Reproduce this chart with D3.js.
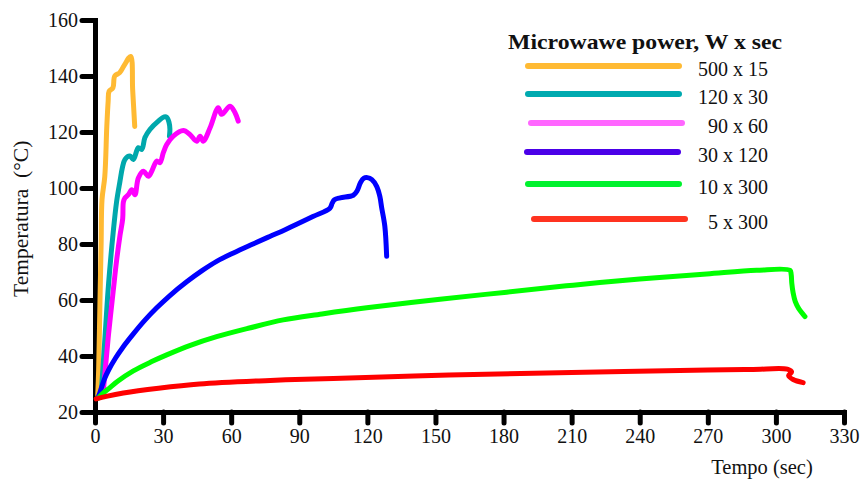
<!DOCTYPE html>
<html>
<head>
<meta charset="utf-8">
<script src="https://cdn.jsdelivr.net/npm/d3@7"></script>
<style>
  body { margin: 0; background: #fff; }
  text { font-family: "Liberation Serif", "Times New Roman", serif; fill: #111; }
</style>
</head>
<body>
<svg id="chart" width="867" height="481"></svg>
<script>
// series: [time (sec), temperature (°C)]
var s500x15 = [[1.2,26],[1.6,35],[2.2,60],[2.7,80],[3.1,96],[4.3,104],[5.2,122],[5.8,131],[6.2,134.5],
  [7.9,135.8],[8.7,140],[10.9,141.2],[13,144],[15.7,147],[16.6,135],[17.5,122]];
var s120x30 = [[2.5,26],[3,30],[4.5,48],[6,66],[8,84],[9.5,95],[11,102.4],[12,107],[13.2,110.2],
  [15.4,111.4],[16.9,110.2],[19.1,114.4],[20.6,113.8],[22,118],[24.2,120.9],[27.9,123.9],
  [30.5,125.4],[31.6,125.3],[32.6,123.5],[33,121],[32.8,118.5]];
var s90x60 = [[3.5,26],[4.5,35],[6,48],[8,63],[9.5,74],[11,83],[12.2,89],[12.5,95],[13.2,96.5],
  [14.7,97.6],[16.2,99.4],[17.6,97.6],[19.1,103.6],[21.3,106],[23.5,104.2],[25,106],[27.2,109.6],
  [28.6,109],[30.1,112.6],[31.6,115.5],[34.5,118.5],[38.9,120.5],[41.8,119.1],[44.8,116.7],
  [46.3,118.5],[47.7,116.7],[50.7,121.5],[54.3,128.7],[55.8,126.3],[59.5,129.2],[61.7,126.9],[63.1,123.9]];
var s30x120 = [[1.5,25.5],[2.2,27],[4,31.5],[6,35],[9,39.2],[12,42.8],[16.8,47.8],[22,52.8],
  [27.2,57.2],[33,61.6],[40.4,66.5],[47,70.4],[53.6,73.8],[61,76.8],[69.6,80],[77,82.7],[84,85.2],
  [96,89.8],[103.5,92.8],[104.5,94.6],[105.5,95.8],[108,96.5],[113.8,97.4],[115.5,99],[117,102],
  [118.5,103.5],[120,103.7],[122,103],[124.1,100.6],[125.5,97],[126.3,93],[127.7,86.3],[128.5,75.6]];
var s10x300 = [[1.5,25],[3,26.3],[6.6,28.7],[10,31],[16.9,34.7],[25,38],[31.6,40.4],[42,43.8],
  [53.6,46.9],[68,50],[82.9,52.9],[100,55],[119.7,57.2],[152,60.3],[181.4,62.8],[210.7,65.3],
  [240,67.5],[269.5,69.3],[291.5,70.6],[306.2,70.6],[306.7,69.3],[307,66],[307.6,62.5],
  [308.5,59.5],[310,57],[312.8,54.1]];
var s5x300 = [[0.5,24.7],[5,25.6],[12.5,26.8],[28,28.5],[46,30],[75,31.2],[105,32],[156,33.2],
  [210,34.1],[270,35],[290,35.2],[305,35.3],[306.9,34.3],[305.6,33],[307.6,31.6],[312,30.5]];

var seriesData = [s500x15, s120x30, s90x60, s30x120, s10x300, s5x300];
var seriesLabels = ["500 x 15", "120 x 30", "90 x 60", "30 x 120", "10 x 300", "5 x 300"];
var lineColors = ["#FFBA33", "#00A8AC", "#FF00FF", "#0000FF", "#00FF00", "#FF0000"];
var legendColors = ["#FFBA33", "#00AAB0", "#FF66FF", "#4A00E8", "#00F22E", "#FF3320"];

var xTicks = d3.range(0, 331, 30);
var yTicks = d3.range(20, 161, 20);

var svg = d3.select("#chart");

var x = d3.scaleLinear().domain([0, 330]).range([95, 844]);
var y = d3.scaleLinear().domain([20, 160]).range([412, 20]);

// axes
var gx = svg.append("g")
    .attr("transform", "translate(0,412)")
    .call(d3.axisBottom(x).tickValues(xTicks).tickSize(11).tickSizeOuter(0).tickPadding(6));
var gy = svg.append("g")
    .attr("transform", "translate(95,0)")
    .call(d3.axisLeft(y).tickValues(yTicks).tickSize(13).tickSizeOuter(0).tickPadding(4));

[gx, gy].forEach(function(g) {
  g.select(".domain").attr("stroke", "#000").attr("stroke-width", 5).attr("stroke-linecap", "square");
  g.selectAll(".tick line").attr("stroke", "#000").attr("stroke-width", 5).attr("stroke-linecap", "round");
  g.selectAll(".tick text").attr("font-size", 20).attr("fill", "#111")
    .style("font-family", '"Liberation Serif", "Times New Roman", serif');
});

// curves
var line = d3.line()
    .curve(d3.curveCatmullRom.alpha(0.5))
    .x(function(d) { return x(d[0]); })
    .y(function(d) { return y(d[1]); });

svg.append("g").selectAll("path")
    .data(seriesData)
    .join("path")
    .attr("d", line)
    .attr("fill", "none")
    .attr("stroke", function(d, i) { return lineColors[i]; })
    .attr("stroke-width", 5)
    .attr("stroke-linecap", "round")
    .attr("stroke-linejoin", "round");

// axis titles
svg.append("text")
    .attr("x", 762).attr("y", 474)
    .attr("text-anchor", "middle")
    .attr("font-size", 20.5)
    .text("Tempo (sec)");

svg.append("text")
    .attr("transform", "translate(28,297) rotate(-90)")
    .attr("font-size", 21.5)
    .style("white-space", "pre")
    .text("Temperatura  (°C)");

// legend
var legendLineY = [66, 94, 123, 152, 184, 219];
var legendShift = [0, 0, 3, -1, 0, 6];

svg.append("text")
    .attr("x", 508).attr("y", 49)
    .attr("font-size", 21)
    .attr("font-weight", "bold")
    .attr("textLength", 274)
    .attr("lengthAdjust", "spacingAndGlyphs")
    .text("Microwawe power, W x sec");

var legend = svg.append("g").selectAll("g")
    .data(seriesLabels)
    .join("g");

legend.append("line")
    .attr("x1", function(d, i) { return 528 + legendShift[i]; })
    .attr("x2", function(d, i) { return 679 + legendShift[i]; })
    .attr("y1", function(d, i) { return legendLineY[i]; })
    .attr("y2", function(d, i) { return legendLineY[i]; })
    .attr("stroke", function(d, i) { return legendColors[i]; })
    .attr("stroke-width", 6)
    .attr("stroke-linecap", "round");

legend.append("text")
    .attr("x", 768)
    .attr("y", function(d, i) { return legendLineY[i] + 10; })
    .attr("text-anchor", "end")
    .attr("font-size", 20)
    .text(function(d) { return d; });
</script>
</body>
</html>
